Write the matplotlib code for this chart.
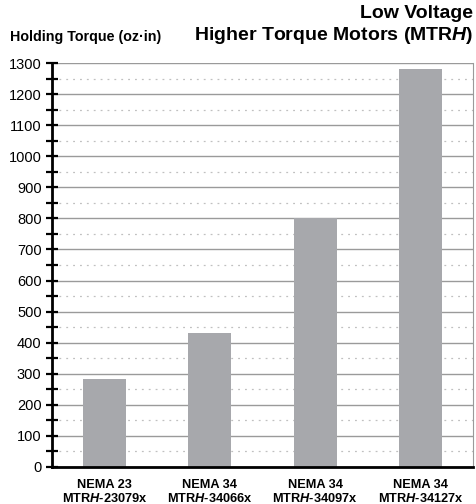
import matplotlib
matplotlib.use("Agg")
import matplotlib.pyplot as plt
from matplotlib.ticker import MultipleLocator

# data
motors = ["NEMA 23\nMTR$\\mathit{H}$-23079x", "NEMA 34\nMTR$\\mathit{H}$-34066x",
          "NEMA 34\nMTR$\\mathit{H}$-34097x", "NEMA 34\nMTR$\\mathit{H}$-34127x"]
torque = [283, 430, 800, 1280]

plt.rcParams['font.family'] = ['Liberation Sans', 'DejaVu Sans']
plt.rcParams['mathtext.fontset'] = 'custom'
plt.rcParams['mathtext.it'] = 'Liberation Sans:italic:bold'
plt.rcParams['mathtext.rm'] = 'Liberation Sans:bold'

fig = plt.figure(figsize=(4.77, 5.04), dpi=100)
ax = fig.add_axes([52 / 477, 37 / 504, 421 / 477, 404 / 504])

x = range(len(torque))
ax.bar(x, torque, width=0.41, color="#a7a8ac", zorder=3)

ax.set_xlim(-0.5, len(torque) - 0.5)
ax.set_ylim(0, 1300)
ax.yaxis.set_major_locator(MultipleLocator(100))
ax.yaxis.set_minor_locator(MultipleLocator(50))
ax.grid(which="major", axis="y", color="#9a9a9a", lw=1.0, zorder=1)
ax.grid(which="minor", axis="y", color="#c0c0c0", lw=0.9, ls=(0, (1.5, 4)), zorder=1)

ax.set_xticks(list(x))
ax.set_xticklabels(motors, fontsize=9.2, fontweight="bold", linespacing=1.05)
ax.tick_params(axis="x", length=0, pad=9)
ax.tick_params(axis="y", which="major", direction="inout", length=9, width=1.6,
               labelsize=10.5, pad=3)
ax.tick_params(axis="y", which="minor", direction="inout", length=8, width=1.6)

for side in ["left", "bottom"]:
    ax.spines[side].set_linewidth(2.0)
    ax.spines[side].set_zorder(4)
ax.spines["right"].set_color("#9a9a9a")
ax.spines["top"].set_visible(False)

fig.text(10 / 477, 1 - 37 / 504, "Holding Torque (oz·in)", fontsize=10.3,
         fontweight="bold", va="center", ha="left")
fig.text(473 / 477, 1 - 14 / 504, "Low Voltage", fontsize=14,
         fontweight="bold", va="center", ha="right")
fig.text(473 / 477, 1 - 36 / 504, "Higher Torque Motors (MTR$\\mathit{H}$)",
         fontsize=14, fontweight="bold", va="center", ha="right")

fig.savefig("out.png", dpi=100)
